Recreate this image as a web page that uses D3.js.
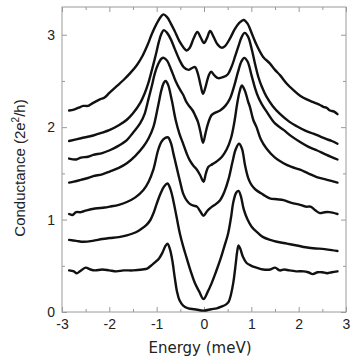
<!DOCTYPE html>
<html><head><meta charset="utf-8">
<script src="https://cdn.jsdelivr.net/npm/d3@7"></script>
<style>
html,body{margin:0;padding:0;background:#fff;}
svg{display:block;}
</style></head>
<body>
<svg id="chart" width="362" height="359"></svg>
<script>
// ---- data (Energy meV, Conductance 2e^2/h) ----
const xTicks = [-3,-2,-1,0,1,2,3];
const yTicks = [0,1,2,3];
const xMinorTicks = [-2.5,-1.5,-0.5,0.5,1.5,2.5];
const yMinorTicks = [0.5,1.5,2.5];
const xLabel = "Energy (meV)";
const yLabel = "Conductance (2e";

const curve1 = [[-2.85,2.18],[-2.75,2.19],[-2.65,2.21],[-2.55,2.23],[-2.45,2.23],[-2.35,2.26],[-2.2,2.30],[-2.1,2.32],[-2.0,2.37],[-1.85,2.44],[-1.7,2.51],[-1.55,2.59],[-1.42,2.67],[-1.3,2.77],[-1.2,2.88],[-1.1,3.01],[-1.0,3.12],[-0.92,3.19],[-0.86,3.22],[-0.78,3.19],[-0.7,3.12],[-0.62,3.04],[-0.52,2.93],[-0.43,2.86],[-0.37,2.83],[-0.3,2.86],[-0.22,2.96],[-0.14,3.03],[-0.07,2.97],[0,2.91],[0.06,2.96],[0.13,3.04],[0.2,2.98],[0.28,2.90],[0.37,2.86],[0.45,2.88],[0.55,2.96],[0.65,3.06],[0.75,3.13],[0.84,3.16],[0.92,3.12],[1.02,3.0],[1.12,2.88],[1.25,2.76],[1.39,2.69],[1.5,2.62],[1.61,2.56],[1.75,2.47],[1.89,2.40],[2.03,2.34],[2.17,2.30],[2.31,2.27],[2.45,2.24],[2.52,2.22],[2.59,2.21],[2.66,2.18],[2.74,2.17],[2.82,2.14]];
const curve2 = [[-2.85,1.85],[-2.6,1.88],[-2.34,1.91],[-2.15,1.94],[-1.99,1.97],[-1.8,2.02],[-1.63,2.08],[-1.5,2.15],[-1.35,2.26],[-1.25,2.37],[-1.18,2.47],[-1.1,2.62],[-1.02,2.78],[-0.95,2.93],[-0.9,3.01],[-0.85,3.05],[-0.78,3.02],[-0.7,2.95],[-0.62,2.85],[-0.52,2.73],[-0.43,2.65],[-0.33,2.62],[-0.25,2.64],[-0.19,2.65],[-0.13,2.58],[-0.07,2.45],[-0.02,2.36],[0.04,2.45],[0.1,2.56],[0.15,2.60],[0.22,2.56],[0.3,2.53],[0.4,2.54],[0.5,2.57],[0.58,2.65],[0.66,2.77],[0.73,2.88],[0.8,2.98],[0.86,3.02],[0.93,2.98],[1.01,2.84],[1.08,2.68],[1.15,2.54],[1.22,2.44],[1.32,2.33],[1.45,2.23],[1.61,2.14],[1.8,2.06],[1.96,2.01],[2.15,1.96],[2.31,1.93],[2.45,1.90],[2.59,1.87],[2.7,1.85],[2.82,1.82]];
const curve3 = [[-2.85,1.66],[-2.7,1.65],[-2.6,1.67],[-2.45,1.68],[-2.34,1.70],[-2.15,1.72],[-1.99,1.75],[-1.8,1.80],[-1.63,1.86],[-1.5,1.94],[-1.35,2.04],[-1.25,2.15],[-1.18,2.29],[-1.1,2.45],[-1.04,2.58],[-0.97,2.68],[-0.9,2.74],[-0.85,2.75],[-0.78,2.72],[-0.7,2.63],[-0.6,2.50],[-0.5,2.40],[-0.44,2.35],[-0.37,2.27],[-0.3,2.22],[-0.24,2.18],[-0.19,2.13],[-0.13,2.06],[-0.08,1.96],[-0.02,1.83],[0.03,1.93],[0.08,2.03],[0.16,2.13],[0.25,2.16],[0.34,2.18],[0.45,2.23],[0.55,2.31],[0.64,2.45],[0.72,2.60],[0.79,2.71],[0.85,2.75],[0.92,2.71],[1.01,2.55],[1.08,2.42],[1.15,2.32],[1.22,2.25],[1.32,2.17],[1.5,2.04],[1.68,1.97],[1.85,1.90],[2.03,1.84],[2.2,1.79],[2.38,1.75],[2.59,1.70],[2.82,1.65]];
const curve4 = [[-2.85,1.40],[-2.75,1.41],[-2.6,1.43],[-2.45,1.45],[-2.34,1.47],[-2.15,1.49],[-1.99,1.52],[-1.8,1.56],[-1.63,1.61],[-1.45,1.69],[-1.28,1.79],[-1.17,1.88],[-1.07,2.00],[-0.97,2.23],[-0.9,2.40],[-0.85,2.48],[-0.81,2.50],[-0.76,2.46],[-0.68,2.29],[-0.6,2.08],[-0.52,1.93],[-0.44,1.82],[-0.37,1.72],[-0.3,1.64],[-0.22,1.58],[-0.15,1.54],[-0.08,1.48],[-0.01,1.41],[0.04,1.50],[0.09,1.57],[0.18,1.60],[0.27,1.63],[0.38,1.68],[0.48,1.76],[0.57,1.88],[0.64,2.05],[0.7,2.25],[0.75,2.38],[0.8,2.45],[0.86,2.40],[0.93,2.28],[0.97,2.22],[1.04,2.08],[1.11,2.00],[1.2,1.87],[1.32,1.77],[1.5,1.67],[1.68,1.61],[1.85,1.57],[2.03,1.54],[2.2,1.50],[2.38,1.46],[2.6,1.43],[2.82,1.40]];
const curve5 = [[-2.85,1.06],[-2.78,1.05],[-2.7,1.08],[-2.6,1.08],[-2.48,1.10],[-2.3,1.12],[-2.1,1.13],[-1.99,1.14],[-1.8,1.16],[-1.63,1.19],[-1.45,1.24],[-1.28,1.32],[-1.17,1.41],[-1.07,1.54],[-0.97,1.75],[-0.9,1.84],[-0.83,1.88],[-0.76,1.89],[-0.7,1.83],[-0.64,1.70],[-0.58,1.57],[-0.51,1.42],[-0.44,1.28],[-0.37,1.21],[-0.3,1.17],[-0.22,1.15],[-0.15,1.14],[-0.08,1.09],[-0.01,1.04],[0.05,1.08],[0.1,1.11],[0.17,1.14],[0.23,1.16],[0.34,1.21],[0.43,1.30],[0.52,1.44],[0.6,1.62],[0.67,1.76],[0.74,1.82],[0.8,1.77],[0.87,1.58],[0.94,1.44],[1.01,1.37],[1.1,1.32],[1.25,1.27],[1.39,1.23],[1.54,1.22],[1.68,1.21],[1.85,1.18],[2.03,1.16],[2.15,1.14],[2.25,1.14],[2.35,1.10],[2.45,1.07],[2.55,1.08],[2.65,1.08],[2.82,1.06]];
const curve6 = [[-2.85,0.78],[-2.7,0.77],[-2.55,0.76],[-2.35,0.77],[-2.15,0.79],[-1.99,0.80],[-1.8,0.81],[-1.63,0.83],[-1.45,0.86],[-1.35,0.89],[-1.22,0.94],[-1.14,0.99],[-1.06,1.08],[-1.0,1.17],[-0.92,1.28],[-0.84,1.36],[-0.77,1.39],[-0.71,1.33],[-0.65,1.21],[-0.58,1.03],[-0.51,0.85],[-0.44,0.71],[-0.37,0.59],[-0.28,0.44],[-0.19,0.31],[-0.1,0.22],[-0.01,0.14],[0.08,0.22],[0.16,0.31],[0.25,0.43],[0.34,0.56],[0.43,0.71],[0.51,0.85],[0.57,1.02],[0.62,1.19],[0.68,1.29],[0.73,1.31],[0.78,1.25],[0.84,1.11],[0.92,1.00],[1.01,0.92],[1.15,0.85],[1.25,0.81],[1.4,0.78],[1.54,0.76],[1.75,0.74],[1.96,0.72],[2.15,0.70],[2.31,0.69],[2.55,0.68],[2.7,0.67],[2.82,0.66]];
const curve7 = [[-2.85,0.45],[-2.75,0.44],[-2.69,0.42],[-2.62,0.44],[-2.5,0.48],[-2.4,0.46],[-2.3,0.45],[-2.15,0.46],[-2.0,0.45],[-1.85,0.44],[-1.7,0.45],[-1.5,0.45],[-1.3,0.46],[-1.2,0.47],[-1.1,0.51],[-1.03,0.54],[-0.95,0.58],[-0.88,0.64],[-0.82,0.71],[-0.77,0.74],[-0.72,0.68],[-0.67,0.56],[-0.62,0.38],[-0.57,0.22],[-0.52,0.13],[-0.44,0.07],[-0.33,0.04],[-0.2,0.03],[0,0.015],[0.15,0.03],[0.27,0.04],[0.38,0.06],[0.46,0.08],[0.52,0.11],[0.57,0.19],[0.62,0.32],[0.67,0.52],[0.7,0.65],[0.73,0.72],[0.77,0.68],[0.82,0.60],[0.9,0.53],[1.0,0.50],[1.11,0.48],[1.25,0.46],[1.4,0.46],[1.5,0.48],[1.6,0.45],[1.7,0.46],[1.8,0.45],[1.95,0.44],[2.1,0.44],[2.2,0.43],[2.3,0.41],[2.4,0.43],[2.5,0.43],[2.6,0.42],[2.7,0.43],[2.82,0.44]];
const curves = [curve1, curve2, curve3, curve4, curve5, curve6, curve7];

// ---- layout ----
const svg = d3.select("#chart");
const L = 62, R = 346, T = 7, B = 312;
const x = d3.scaleLinear().domain([-3,3]).range([L,R]);
const y = d3.scaleLinear().domain([0,3.3]).range([B,T]);
const frameColor = "#9a9a9a";
const labelFont = "'Liberation Sans', Arial, sans-serif";
const fmt = d => String(d);

function styleAxis(g){
  g.select(".domain").remove();
  g.selectAll(".tick line").attr("stroke", frameColor).attr("stroke-width",1);
  g.selectAll(".tick text").attr("fill","#222").style("font-family",labelFont).style("font-size","14px");
}

// bottom
svg.append("g").attr("transform",`translate(0,${B})`)
  .call(d3.axisBottom(x).tickValues(xTicks).tickFormat(fmt).tickSizeInner(-5).tickSizeOuter(0).tickPadding(7))
  .call(styleAxis);
svg.append("g").attr("transform",`translate(0,${B})`)
  .call(d3.axisBottom(x).tickValues(xMinorTicks).tickFormat("").tickSizeInner(-3).tickSizeOuter(0))
  .call(styleAxis);
// top
svg.append("g").attr("transform",`translate(0,${T})`)
  .call(d3.axisTop(x).tickValues(xTicks).tickFormat("").tickSizeInner(-5).tickSizeOuter(0))
  .call(styleAxis);
svg.append("g").attr("transform",`translate(0,${T})`)
  .call(d3.axisTop(x).tickValues(xMinorTicks).tickFormat("").tickSizeInner(-3).tickSizeOuter(0))
  .call(styleAxis);
// left
svg.append("g").attr("transform",`translate(${L},0)`)
  .call(d3.axisLeft(y).tickValues(yTicks).tickFormat(fmt).tickSizeInner(-5).tickSizeOuter(0).tickPadding(7))
  .call(styleAxis);
svg.append("g").attr("transform",`translate(${L},0)`)
  .call(d3.axisLeft(y).tickValues(yMinorTicks).tickFormat("").tickSizeInner(-3).tickSizeOuter(0))
  .call(styleAxis);
// right
svg.append("g").attr("transform",`translate(${R},0)`)
  .call(d3.axisRight(y).tickValues(yTicks).tickFormat("").tickSizeInner(-5).tickSizeOuter(0))
  .call(styleAxis);
svg.append("g").attr("transform",`translate(${R},0)`)
  .call(d3.axisRight(y).tickValues(yMinorTicks).tickFormat("").tickSizeInner(-3).tickSizeOuter(0))
  .call(styleAxis);

// frame
svg.append("rect").attr("x",L).attr("y",T).attr("width",R-L).attr("height",B-T)
  .attr("fill","none").attr("stroke",frameColor).attr("stroke-width",1);

// curves
const line = d3.line().x(d=>x(d[0])).y(d=>y(d[1])).curve(d3.curveCatmullRom.alpha(0.5));
svg.append("g").selectAll("path").data(curves).join("path")
  .attr("d", line).attr("fill","none").attr("stroke","#111")
  .attr("stroke-width",2.4).attr("stroke-linejoin","round").attr("stroke-linecap","round");

// axis titles
svg.append("text").attr("x",200).attr("y",353).attr("text-anchor","middle")
  .style("font-family","'DejaVu Sans', Verdana, sans-serif").style("font-size","15px").attr("fill","#222")
  .text(xLabel);

const yt = svg.append("text").attr("transform","translate(25,168) rotate(-90)").attr("text-anchor","middle")
  .style("font-family",labelFont).style("font-size","15px").attr("fill","#222");
yt.append("tspan").text(yLabel);
yt.append("tspan").attr("dy","-6").style("font-size","10px").text("2");
yt.append("tspan").attr("dy","6").text("/h)");
</script>
</body></html>
